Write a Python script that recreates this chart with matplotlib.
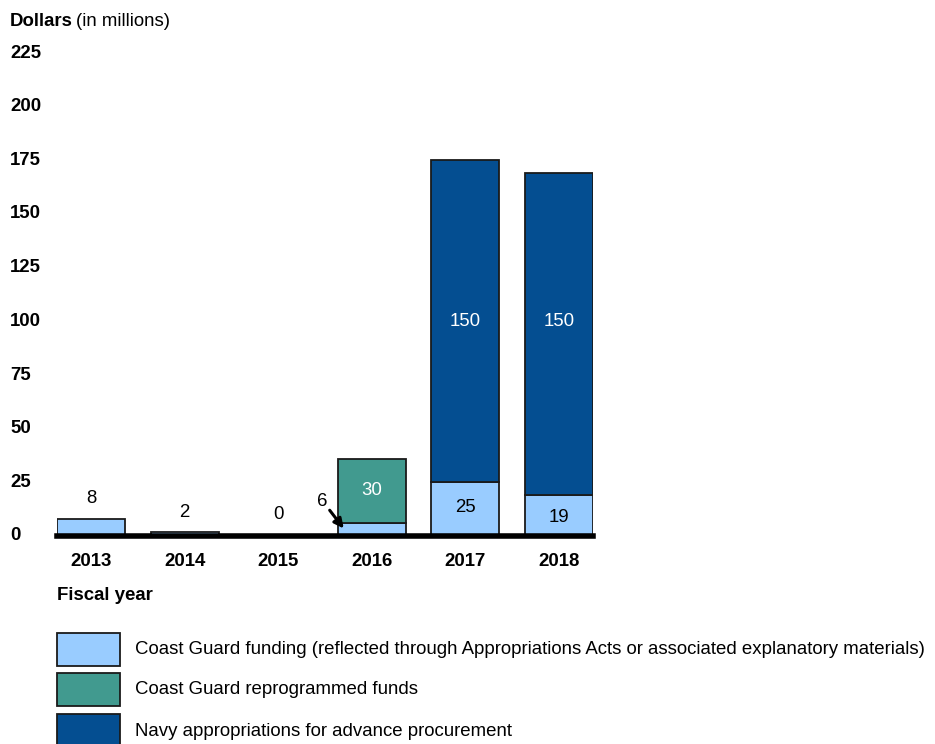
import matplotlib
matplotlib.use("Agg")
import matplotlib.pyplot as plt
from matplotlib.patches import Rectangle
import numpy as np

plt.rcParams['font.family'] = ['Liberation Sans', 'DejaVu Sans']

years = ["2013", "2014", "2015", "2016", "2017", "2018"]
cg_funding = [8, 2, 0, 6, 25, 19]
cg_reprogrammed = [0, 0, 0, 30, 0, 0]
navy_ap = [0, 0, 0, 0, 150, 150]
y_ticks = [0, 25, 50, 75, 100, 125, 150, 175, 200, 225]

c_light = "#99CCFF"
c_teal = "#419A8F"
c_navy = "#044E91"

W, H = 935, 744
fs = 13.4
fig = plt.figure(figsize=(W / 100, H / 100), dpi=100)
ax = fig.add_axes([57 / W, 1 - 536 / H, (593 - 57) / W, (536 - 53) / H])

x = np.arange(len(years))
bw = 0.725
cg = np.array(cg_funding, dtype=float)
rp = np.array(cg_reprogrammed, dtype=float)
nv = np.array(navy_ap, dtype=float)

ax.bar(x, cg, bw, color=c_light, edgecolor="#1a1a1a", linewidth=1.3)
ax.bar(x[rp > 0], rp[rp > 0], bw, bottom=cg[rp > 0], color=c_teal, edgecolor="#1a1a1a", linewidth=1.3)
ax.bar(x[nv > 0], nv[nv > 0], bw, bottom=(cg + rp)[nv > 0], color=c_navy, edgecolor="#1a1a1a", linewidth=1.3)

ax.set_xlim(-bw / 2, len(years) - 1 + bw / 2)
ax.set_ylim(0, 225)
ax.set_yticks(y_ticks)
ax.set_yticklabels([])
ax.set_xticks(x)
ax.set_xticklabels(years, fontsize=fs, fontweight="bold")
ax.tick_params(axis="both", length=0)
ax.tick_params(axis="x", pad=12)
for s in ["top", "right", "left"]:
    ax.spines[s].set_visible(False)
ax.spines["bottom"].set_linewidth(4)
ax.spines["bottom"].set_color("black")
for t in y_ticks:
    ax.text(-47 / (593 - 57), t, str(t), transform=ax.get_yaxis_transform(),
            ha="left", va="center", fontsize=fs, fontweight="bold")

# labels above small bars
offs = [9.5, 9, 10]
for i in range(3):
    ax.text(x[i], cg[i] + offs[i], str(cg_funding[i]), ha="center", va="center", fontsize=fs)
# 2016
ax.text(x[3] - 0.53, 16, str(cg_funding[3]), ha="center", va="center", fontsize=fs)
ax.annotate("", xy=(x[3] - 0.30, 3.5), xytext=(x[3] - 0.45, 12),
            arrowprops=dict(arrowstyle="-|>", color="black", lw=2.2, mutation_scale=14,
                            shrinkA=0, shrinkB=0))
ax.text(x[3], cg[3] + rp[3] / 2, str(cg_reprogrammed[3]), ha="center", va="center", fontsize=fs, color="white")
ax.text(x[4], cg[4] / 2 + 1, str(cg_funding[4]), ha="center", va="center", fontsize=fs, color="black")
ax.text(x[5], cg[5] / 2 - 1, str(cg_funding[5]), ha="center", va="center", fontsize=fs, color="black")
for i in [4, 5]:
    ax.text(x[i], 100, str(navy_ap[i]), ha="center", va="center", fontsize=fs, color="white")

# titles
fig.text(10 / W, 1 - 21 / H, "Dollars", fontsize=fs, fontweight="bold", ha="left", va="center")
fig.text(76 / W, 1 - 21 / H, "(in millions)", fontsize=fs, ha="left", va="center")
fig.text(57 / W, 1 - 596 / H, "Fiscal year", fontsize=fs, fontweight="bold", ha="left", va="center")

# legend
leg_items = [(c_light, "Coast Guard funding (reflected through Appropriations Acts or associated explanatory materials)"),
             (c_teal, "Coast Guard reprogrammed funds"),
             (c_navy, "Navy appropriations for advance procurement")]
tops = [633, 673, 714]
for (col, txt), t in zip(leg_items, tops):
    fig.patches.append(Rectangle((57 / W, 1 - (t + 33) / H), 63 / W, 33 / H, transform=fig.transFigure,
                                 facecolor=col, edgecolor="#1a1a1a", linewidth=1.3))
    fig.text(135 / W, 1 - (t + 17) / H, txt, fontsize=fs, ha="left", va="center")

fig.savefig("out.png", dpi=100)
